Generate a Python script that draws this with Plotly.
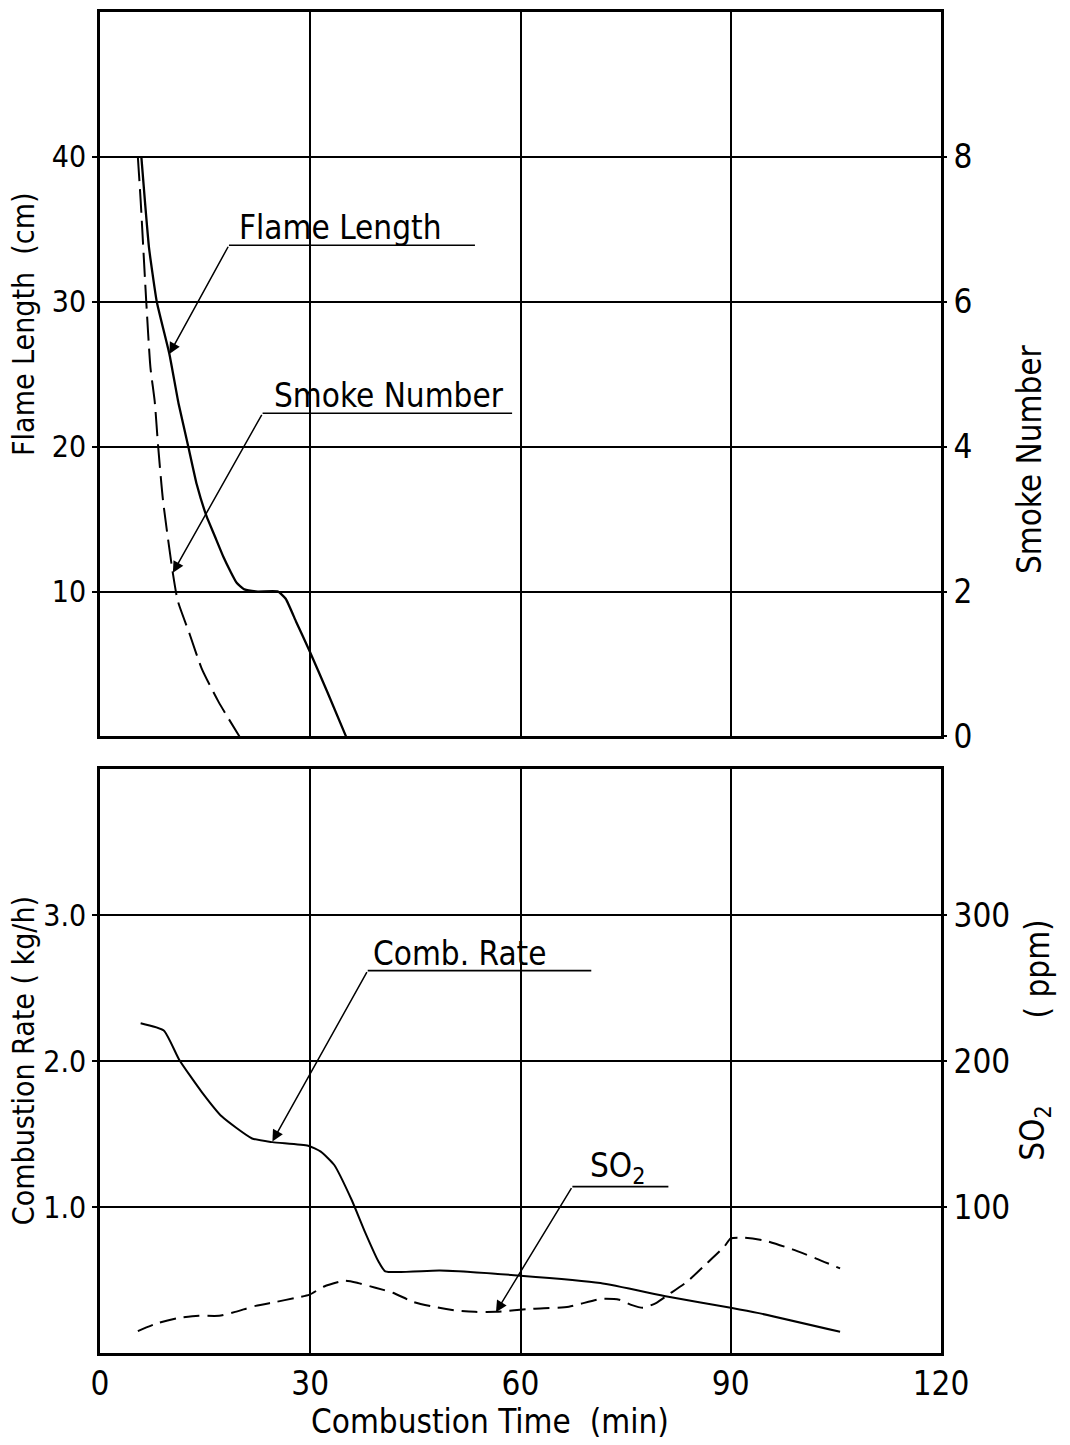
import plotly.graph_objects as go

# ---------------- data ----------------
time_flame = [5.9, 6.4, 7.0, 8.1, 9.9, 11.2, 12.6, 13.8, 15.2, 16.4, 17.6, 18.6, 19.5, 20.6, 22.5, 25.4, 26.5, 28.0, 29.9, 32.5, 35.1]
flame_length = [40.0, 37.0, 33.7, 30.0, 26.4, 23.0, 20.0, 17.4, 15.2, 13.8, 12.4, 11.4, 10.6, 10.15, 10.0, 10.0, 9.5, 7.9, 5.9, 3.0, 0.0]

time_smoke = [5.4, 5.8, 6.6, 7.2, 7.8, 8.3, 9.0, 10.4, 11.1, 12.8, 14.5, 16.9, 19.9]
smoke_number = [8.0, 7.4, 6.0, 5.09, 4.63, 4.0, 3.25, 2.25, 1.87, 1.41, 0.94, 0.48, 0.0]

time_comb = [5.8, 9.1, 11.3, 14.5, 17.4, 21.7, 24.6, 29.7, 31.5, 33.4, 35.9, 37.8, 39.7, 40.7, 48.5, 60.0, 71.4, 81.1, 90.0, 93.8, 105.6]
comb_rate = [2.26, 2.21, 2.01, 1.79, 1.62, 1.47, 1.445, 1.42, 1.38, 1.29, 1.05, 0.83, 0.63, 0.56, 0.565, 0.53, 0.48, 0.385, 0.31, 0.275, 0.145]

time_so2 = [5.4, 8.3, 11.2, 14.1, 17.0, 19.3, 22.2, 25.1, 28.0, 29.9, 31.9, 34.9, 36.8, 39.3, 41.8, 44.7, 47.6, 51.0, 53.5, 56.5, 61.6,
            66.9, 71.4, 74.1, 75.8, 77.5, 79.4, 81.1, 83.8, 86.4, 89.1, 90.0, 91.9, 94.9, 98.8, 102.2, 105.6]
so2_ppm = [15, 20.6, 24, 25.5, 25.5, 28.2, 32.3, 35, 37.9, 40, 45.4, 49.5, 48, 44.7, 41.3, 35, 31.7, 29, 28.2, 28.2, 30.3,
           31.7, 37, 36.5, 33, 31, 34.4, 40, 49, 60.6, 73, 78.5, 79, 77, 71, 64.7, 58]

x_ticks = [0, 30, 60, 90, 120]
flame_ticks = [10, 20, 30, 40]
smoke_ticks = [0, 2, 4, 6, 8]
rate_ticks = [1.0, 2.0, 3.0]
so2_ticks = [100, 200, 300]

# ---------------- styling ----------------
FONT = "DejaVu Sans Condensed, Liberation Sans Narrow, DejaVu Sans, sans-serif"
TICKFONT = dict(family=FONT, size=33, color="black")
LTICKFONT = dict(family=FONT, size=30, color="black")
BLACK = "black"

fig = go.Figure()
fig.add_trace(go.Scatter(x=time_flame, y=flame_length, mode="lines", xaxis="x", yaxis="y",
                         line=dict(color=BLACK, width=2.3, shape="spline", smoothing=0.4), showlegend=False))
fig.add_trace(go.Scatter(x=time_smoke, y=smoke_number, mode="lines", xaxis="x", yaxis="y2",
                         line=dict(color=BLACK, width=2.0, dash="24px,8px", shape="spline", smoothing=0.6), showlegend=False))
fig.add_trace(go.Scatter(x=time_comb, y=comb_rate, mode="lines", xaxis="x2", yaxis="y3",
                         line=dict(color=BLACK, width=2.0, shape="spline", smoothing=0.5), showlegend=False))
fig.add_trace(go.Scatter(x=time_so2, y=so2_ppm, mode="lines", xaxis="x2", yaxis="y4",
                         line=dict(color=BLACK, width=2.0, dash="16px,8px", shape="spline", smoothing=0.6), showlegend=False))

common_x = dict(range=[0, 120], tickvals=x_ticks, showgrid=True, gridcolor=BLACK, gridwidth=1.6,
                showline=True, mirror=True, linecolor=BLACK, linewidth=2.6, zeroline=False,
                tickfont=TICKFONT, ticks="")
common_yl = dict(showgrid=True, gridcolor=BLACK, gridwidth=1.6, showline=True, mirror=True,
                 linecolor=BLACK, linewidth=2.6, zeroline=False, ticks="outside", ticklen=5,
                 tickwidth=2, tickcolor=BLACK, tickfont=LTICKFONT)
common_yr = dict(showgrid=False, zeroline=False, showline=False, ticks="outside", ticklen=5,
                 tickwidth=2, tickcolor=BLACK, tickfont=TICKFONT, side="right")

fig.update_layout(
    width=1070, height=1445,
    margin=dict(l=100, r=129, t=9, b=92),
    paper_bgcolor="white", plot_bgcolor="white",
    xaxis=dict(domain=[0, 1], anchor="y", showticklabels=False, **common_x),
    yaxis=dict(domain=[0.4598, 1], range=[0, 50], tickvals=flame_ticks, **common_yl),
    yaxis2=dict(overlaying="y", range=[0, 10], tickvals=smoke_ticks, anchor="x", **common_yr),
    xaxis2=dict(domain=[0, 1], anchor="y3", showticklabels=True, ticklabelstandoff=0, **common_x),
    yaxis3=dict(domain=[0, 0.4353], range=[0, 4], tickvals=rate_ticks, tickformat=".1f", **common_yl),
    yaxis4=dict(overlaying="y3", range=[0, 400], tickvals=so2_ticks, anchor="x2", **common_yr),
)

LBL = dict(family=FONT, size=33, color="black")

# curve labels: underline + leader arrow + text
labels = [
    # text, xref, yref, text_x, text_y, line_x0, line_x1, line_y, tip_x, tip_y
    ("Flame Length", "x", "y", 19.6, 33.9, 18.4, 53.5, 33.9, 9.9, 26.4),
    ("Smoke Number", "x", "y", 24.6, 22.3, 23.2, 58.8, 22.3, 10.4, 11.3),
    ("Comb. Rate", "x2", "y3", 38.6, 2.62, 38.2, 70.1, 2.62, 24.6, 1.45),
    ("SO<sub>2</sub>", "x2", "y3", 69.6, 1.14, 67.4, 81.1, 1.14, 56.5, 0.28),
]
for text, xr, yr, tx, ty, lx0, lx1, ly, px, py in labels:
    fig.add_shape(type="line", xref=xr, yref=yr, x0=lx0, x1=lx1, y0=ly, y1=ly,
                  line=dict(color=BLACK, width=1.6))
    fig.add_annotation(xref=xr, yref=yr, x=tx, y=ty, text=text, showarrow=False,
                       xanchor="left", yanchor="bottom", yshift=-4, font=LBL)
    fig.add_annotation(xref=xr, yref=yr, x=px, y=py, ax=lx0, ay=ly, axref=xr, ayref=yr,
                       text="", showarrow=True, arrowhead=2, arrowsize=1.5, arrowwidth=1.5,
                       arrowcolor=BLACK, standoff=0, startstandoff=0)

# axis titles
TTL = dict(family=FONT, size=33, color="black")
LTTL = dict(family=FONT, size=30, color="black")
titles = [
    ("Flame Length  (cm)", -0.091, 0.767, -90, LTTL),
    ("Combustion Rate ( kg/h)", -0.091, 0.218, -90, LTTL),
    ("Smoke Number", 1.106, 0.6667, -90, TTL),
    ("( ppm)", 1.115, 0.2865, -90, TTL),
    ("SO<sub>2</sub>", 1.111, 0.1637, -90, TTL),
    ("Combustion Time  (min)", 0.4637, -0.0513, 0, TTL),
]
for text, xp, yp, ang, fnt in titles:
    fig.add_annotation(xref="paper", yref="paper", x=xp, y=yp, text=text, showarrow=False,
                       textangle=ang, xanchor="center", yanchor="middle", font=fnt)

fig.write_html("out.html")
